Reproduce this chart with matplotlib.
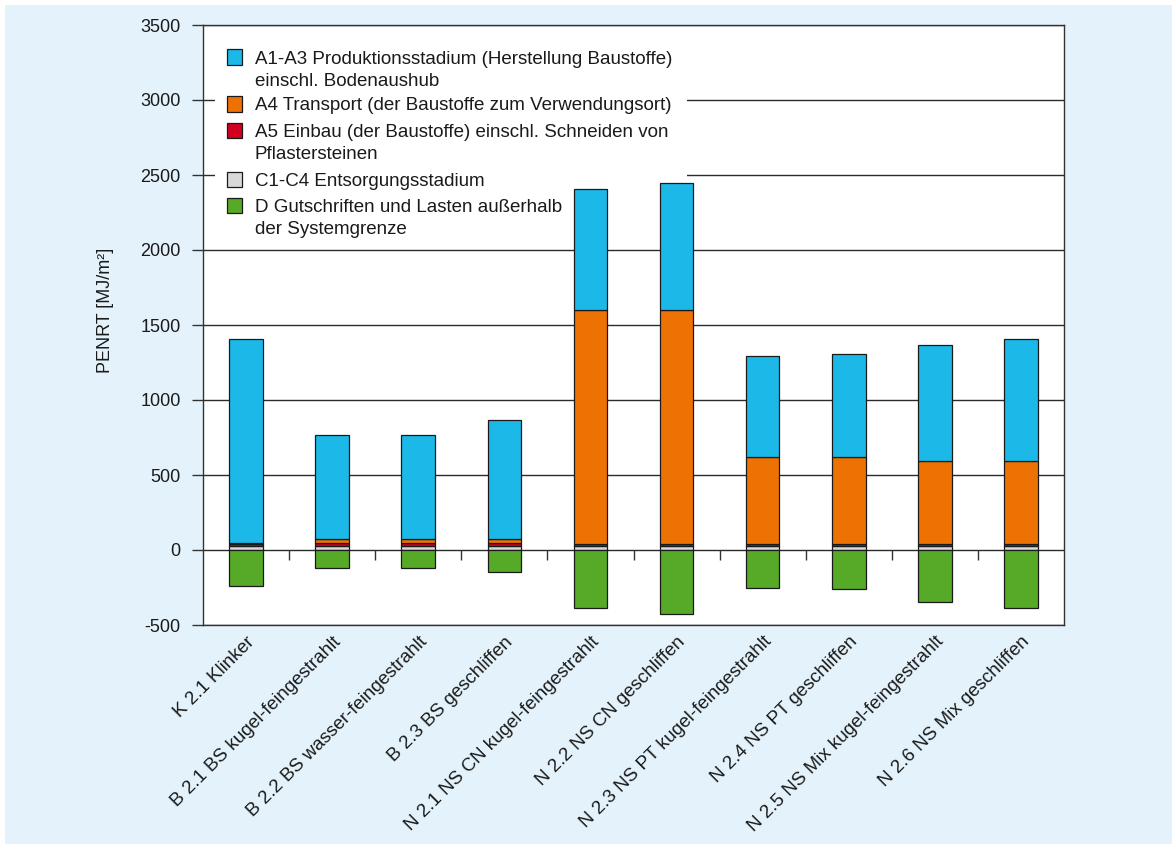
import matplotlib
matplotlib.use('Agg')
import matplotlib.pyplot as plt
from matplotlib.patches import Rectangle
import numpy as np

plt.rcParams['font.family'] = ['Liberation Sans', 'DejaVu Sans']
plt.rcParams['axes.unicode_minus'] = False

# Varianten
kategorien = ['K 2.1 Klinker', 'B 2.1 BS kugel-feingestrahlt', 'B 2.2 BS wasser-feingestrahlt',
              'B 2.3 BS geschliffen', 'N 2.1 NS CN kugel-feingestrahlt', 'N 2.2 NS CN geschliffen',
              'N 2.3 NS PT kugel-feingestrahlt', 'N 2.4 NS PT geschliffen',
              'N 2.5 NS Mix kugel-feingestrahlt', 'N 2.6 NS Mix geschliffen']

# PENRT je Modul [MJ/m2]
c1_c4 = [25, 25, 25, 25, 25, 25, 25, 25, 25, 25]
a5 = [12, 22, 22, 22, 15, 15, 15, 15, 15, 15]
a4 = [10, 28, 28, 28, 1560, 1560, 578, 578, 553, 553]
a1_a3 = [1363, 695, 695, 795, 810, 850, 677, 687, 777, 817]
d = [-240, -122, -122, -148, -387, -424, -250, -262, -349, -387]

legende = ['A1-A3 Produktionsstadium (Herstellung Baustoffe)\neinschl. Bodenaushub',
           'A4 Transport (der Baustoffe zum Verwendungsort)',
           'A5 Einbau (der Baustoffe) einschl. Schneiden von\nPflastersteinen',
           'C1-C4 Entsorgungsstadium',
           'D Gutschriften und Lasten außerhalb\nder Systemgrenze']
farben = ['#1cb9e8', '#ee7203', '#d2001e', '#d9d9d9', '#57aa27']

W, H = 1172, 844
fig = plt.figure(figsize=(W / 100, H / 100), dpi=100)
fig.patch.set_facecolor('white')
fig.add_artist(Rectangle((5 / W, 0), 1, 1 - 5 / H, transform=fig.transFigure,
                         facecolor='#e4f3fb', edgecolor='none', zorder=-10))

L, R, T, B = 203, 1064, 25, 625
ax = fig.add_axes([L / W, 1 - B / H, (R - L) / W, (B - T) / H])
ax.set_facecolor('white')

x = np.arange(len(kategorien))
bw = 0.39
unten = np.zeros(len(x))
# Stapel von unten: C1-C4, A5, A4, A1-A3
for werte, farbe in zip([c1_c4, a5, a4, a1_a3], [farben[3], farben[2], farben[1], farben[0]]):
    ax.bar(x, werte, bw, bottom=unten, color=farbe, edgecolor='#1a1a1a', linewidth=0.9, zorder=3)
    unten += np.array(werte)
ax.bar(x, d, bw, color=farben[4], edgecolor='#1a1a1a', linewidth=0.9, zorder=3)

ax.set_xlim(-0.5, len(x) - 0.5)
ax.set_ylim(-500, 3500)
ax.set_yticks(range(-500, 3501, 500))
ax.yaxis.grid(True, color='#2b2b2b', linewidth=1.0)
ax.set_axisbelow(True)

# kleine Trennstriche an der Nulllinie
ax.vlines(x[:-1] + 0.5, -67, 0, color='#333333', linewidth=1.0, zorder=2)

for s in ax.spines.values():
    s.set_color('#333333')
    s.set_linewidth(1.0)

ax.tick_params(axis='y', direction='out', length=8, width=1, pad=8,
               labelsize=13, colors='#333333', labelcolor='#1a1a1a')
ax.tick_params(axis='x', length=0, pad=6, labelsize=13.5, labelcolor='#1a1a1a')
ax.set_xticks(x)
ax.set_xticklabels(kategorien, rotation=45, ha='right', va='top', rotation_mode='anchor')

fig.text(105 / W, 1 - 310 / H, 'PENRT [MJ/m²]', rotation=90, ha='center', va='center',
         fontsize=13, color='#1a1a1a')


# Legende (Kästchen an der ersten Zeile ausgerichtet)
def ax_xy(px, py):
    return (px - L) / (R - L), (B - py) / (B - T)


bx0, by0 = ax_xy(215, 238)
bx1, by1 = ax_xy(687, 35)
ax.add_patch(Rectangle((bx0, by0), bx1 - bx0, by1 - by0, transform=ax.transAxes,
                       facecolor='white', edgecolor='none', zorder=2.5))
zeilen_y = [57, 104, 130.5, 179, 205]
for text, farbe, cy in zip(legende, farben, zeilen_y):
    qx, qy = ax_xy(227, cy + 7.5)
    qw = 15 / (R - L)
    qh = 15 / (B - T)
    ax.add_patch(Rectangle((qx, qy), qw, qh, transform=ax.transAxes,
                           facecolor=farbe, edgecolor='#1a1a1a', linewidth=0.9, zorder=5))
    for j, zeile in enumerate(text.split('\n')):
        tx, ty = ax_xy(255, cy + 6.5 + j * 22)
        ax.text(tx, ty, zeile, transform=ax.transAxes, ha='left', va='baseline',
                fontsize=13.5, color='#1a1a1a', zorder=6)

fig.savefig('out.png', dpi=100)
